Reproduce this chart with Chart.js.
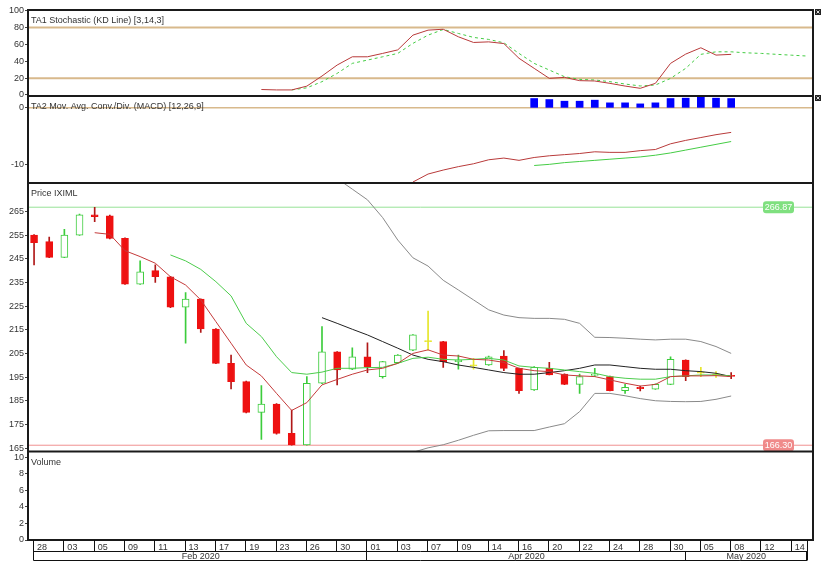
<!DOCTYPE html>
<html>
<head>
<meta charset="utf-8">
<script src="https://cdn.jsdelivr.net/npm/chart.js@4.4.1/dist/chart.umd.min.js"></script>
<style>
  html, body { margin: 0; padding: 0; background: #fff; }
</style>
</head>
<body>
<canvas id="myChart" width="830" height="561"></canvas>
<script>
// x axis labels (one label every two trading days)
var dateLabels = ["28", "03", "05", "09", "11", "13", "17", "19", "23", "26", "30", "01", "03",
                  "07", "09", "14", "16", "20", "22", "24", "28", "30", "05", "08", "12", "14"];
var dateSlots = [0, 2, 4, 6, 8, 10, 12, 14, 16, 18, 20, 22, 24, 26, 28, 30, 32, 34, 36, 38, 40, 42, 44, 46, 48, 50];
var monthLabels = ["Feb 2020", "Apr 2020", "May 2020"];
var monthSlots = [0, 22, 43, 51];

// candles
var openP  = [255.1, 252.3, 245.7, 255.1, 263.7, 263.2, 253.7, 234.3, 240.1, 237.5, 224.6, 228.0, 215.4, 200.9, 193.2, 180.2,
              183.7, 171.3, 166.4, 192.5, 205.8, 198.4, 203.7, 195.3, 201.2, 206.5, 210.1, 210.1, 201.6, 199.8, 200.2, 204.0,
              198.8, 189.7, 198.8, 196.4, 192.0, 195.8, 195.3, 189.4, 190.8, 190.0, 192.0, 202.3, 196.7, 196.0, 195.8];
var highP  = [255.3, 254.2, 257.5, 264.0, 266.87, 263.5, 253.9, 244.2, 242.5, 237.7, 230.8, 228.2, 215.6, 204.4, 193.4, 191.5,
              183.9, 181.2, 195.3, 216.4, 205.9, 207.5, 209.6, 201.7, 204.6, 213.0, 223.0, 210.2, 204.4, 203.0, 204.0, 206.3,
              198.9, 199.5, 201.3, 196.5, 196.4, 198.8, 195.5, 192.0, 191.3, 192.2, 203.7, 202.4, 199.2, 197.4, 197.0];
var lowP   = [242.5, 245.5, 245.6, 255.0, 260.8, 253.5, 234.2, 234.2, 235.1, 224.4, 209.4, 214.0, 200.8, 190.1, 180.0, 168.8,
              171.0, 166.3, 166.3, 192.3, 191.8, 198.2, 197.0, 194.6, 201.0, 206.3, 206.5, 199.2, 198.4, 198.4, 200.0, 197.8,
              188.2, 189.5, 196.0, 191.9, 188.2, 195.3, 189.2, 188.2, 189.2, 189.9, 191.9, 193.6, 195.3, 195.0, 194.4];
var closeP = [251.9, 245.7, 255.1, 263.6, 262.9, 253.7, 234.3, 239.6, 237.5, 224.6, 228.0, 215.4, 200.9, 193.2, 180.2, 183.7,
              171.3, 166.4, 192.5, 205.8, 198.1, 203.7, 199.5, 201.6, 204.4, 212.9, 210.1, 201.6, 202.3, 199.8, 203.7, 198.8,
              189.4, 199.2, 196.0, 192.0, 195.3, 196.2, 189.4, 190.8, 190.2, 192.0, 202.6, 195.3, 196.7, 196.0, 195.4];
var volume = [0, 0, 0, 0, 0];

// price overlays
var maFast = [null, null, null, null, 256.1, 255.4, 248.5, 246.0, 243.2, 237.5, 234.0, 227.7, 218.5, 209.4, 200.2, 195.6,
              188.2, 181.0, 184.3, 191.8, 194.1, 196.3, 198.1, 198.8, 200.9, 205.1, 206.6, 204.4, 204.0, 202.6, 202.3, 201.3,
              198.8, 197.8, 197.4, 196.0, 195.6, 195.3, 193.9, 192.5, 191.3, 192.0, 195.3, 195.6, 195.6, 195.7, 195.3];
var maSlow = [null, null, null, null, null, null, null, null, null, 246.7, 244.2, 240.6, 235.4, 229.4, 217.8, 212.2,
              203.7, 197.0, 196.3, 197.2, 198.8, 198.8, 199.1, 199.2, 200.9, 203.0, 203.5, 202.6, 202.3, 202.6, 203.0, 202.3,
              199.8, 199.2, 198.8, 198.1, 197.4, 196.7, 195.3, 194.6, 194.2, 194.2, 195.3, 195.6, 196.0, 196.0, 195.6];
var bbMid = [null, null, null, null, null, null, null, null, null, null, null, null, null, null, null, null,
             null, null, null, 220.2, 217.8, 215.3, 212.9, 210.1, 207.3, 204.4, 202.6, 201.6, 200.2, 199.2, 198.1, 197.0,
             196.3, 196.3, 197.0, 197.8, 198.8, 200.2, 200.2, 199.5, 198.8, 198.4, 198.4, 197.8, 197.4, 196.7, 195.3];
var bbUp = [null, null, null, null, null, null, null, null, null, null, null, null, null, null, null, null,
            null, null, null, 290.0, 279.0, 274.5, 270.0, 262.5, 253.0, 245.5, 242.0, 236.0, 231.9, 227.7, 223.5, 221.3,
            220.2, 219.9, 219.9, 219.5, 217.8, 211.9, 211.8, 211.5, 211.1, 210.8, 211.1, 211.1, 210.1, 208.0, 205.1];
var bbLow = [null, null, null, null, null, null, null, null, null, null, null, null, null, null, null, null,
             null, null, null, 150.0, 156.0, 156.0, 156.0, 158.0, 161.0, 163.3, 165.2, 166.5, 168.4, 170.5, 172.4, 172.5,
             172.5, 172.5, 174.0, 175.4, 180.5, 188.2, 188.2, 187.2, 186.0, 185.1, 184.8, 184.7, 184.8, 185.7, 187.1];
var priceHigh = 266.87;
var priceLow = 166.30;

// stochastic
var stochK = [null, null, null, null, null, null, null, null, null, null, null, null, null, null, null, 6.5,
              6.0, 6.0, 10.5, 22.5, 35.5, 45.3, 45.3, 49.3, 53.5, 71.0, 76.9, 78.0, 69.0, 62.3, 63.0, 61.0,
              43.5, 31.6, 19.7, 20.9, 17.0, 16.6, 13.8, 10.6, 7.9, 13.8, 37.5, 48.5, 56.0, 47.3, 48.2];
var stochD = [null, null, null, null, null, null, null, null, null, null, null, null, null, null, null, null,
              null, 6.0, 8.5, 15.8, 25.6, 37.5, 41.4, 45.3, 49.3, 61.2, 71.0, 77.7, 73.0, 68.3, 65.9, 61.9,
              49.3, 37.5, 29.6, 21.7, 18.5, 17.8, 15.8, 13.0, 10.7, 11.8, 19.7, 31.6, 48.2, 51.2, 51.2,
              50.0, 49.3, 48.2, 47.2, 46.2];
var stochLevels = [20, 80];

// MACD
var macdLine = [null, null, null, null, null, null, null, null, null, null, null, null, null, null, null, null,
                null, null, null, null, null, null, null, null, null, -13.0, -11.6, -10.9, -10.3, -9.8, -9.1, -8.8,
                -9.2, -8.7, -8.4, -8.2, -8.0, -7.7, -7.8, -7.8, -7.5, -7.3, -6.3, -5.7, -5.2, -4.7, -4.3];
var macdSignal = [null, null, null, null, null, null, null, null, null, null, null, null, null, null, null, null,
                  null, null, null, null, null, null, null, null, null, null, null, null, null, null, null, null,
                  null, -10.1, -9.9, -9.6, -9.4, -9.2, -9.0, -8.8, -8.6, -8.3, -7.9, -7.4, -6.9, -6.4, -5.9];
var macdHist = [null, null, null, null, null, null, null, null, null, null, null, null, null, null, null, null,
                null, null, null, null, null, null, null, null, null, null, null, null, null, null, null, null,
                null, 1.64, 1.46, 1.17, 1.17, 1.35, 0.88, 0.88, 0.70, 0.88, 1.64, 1.70, 1.87, 1.70, 1.64];
var macdLevels = [0];

// axis ticks
var stochTicks = [0, 20, 40, 60, 80, 100];
var macdTicks = [-10, 0];
var priceTicks = [165, 175, 185, 195, 205, 215, 225, 235, 245, 255, 265];
var volTicks = [0, 2, 4, 6, 8, 10];

var titles = {
  yStoch: "TA1 Stochastic (KD Line) [3,14,3]",
  yMacd: "TA2 Mov. Avg. Conv./Div. (MACD) [12,26,9]",
  yPrice: "Price IXIML",
  yVol: "Volume"
};

var FONT = "Liberation Sans";
Chart.defaults.font.family = FONT;
Chart.defaults.font.size = 9;

function pts(arr) {
  return arr.map(function (v, i) { return {x: i, y: v}; }).filter(function (p) { return p.y !== null; });
}
function candleColor(i, up, down, flat) {
  if (closeP[i] > openP[i]) return up;
  if (closeP[i] < openP[i]) return down;
  return flat;
}
var idx = closeP.map(function (_, i) { return i; });
var bodyFill = idx.map(function (i) { return candleColor(i, "#ffffff", "#ee1111", "#e6e62a"); });
var bodyLine = idx.map(function (i) { return candleColor(i, "#3ccc3c", "#ee1111", "#e6e62a"); });
var wickLine = idx.map(function (i) { return candleColor(i, "#3ccc3c", "#b01818", "#e6e62a"); });

function lineSet(label, axis, arr, color, extra) {
  var ds = {
    type: "line", label: label, yAxisID: axis, data: pts(arr),
    borderColor: color, borderWidth: 1, pointRadius: 0, tension: 0,
    spanGaps: false, clip: 0, order: 0
  };
  for (var k in extra) ds[k] = extra[k];
  return ds;
}

function yAxis(weight, min, max, ticks) {
  return {
    type: "linear", position: "left", stack: "panels", stackWeight: weight,
    min: min, max: max, bounds: "data",
    grid: { drawOnChartArea: false, drawTicks: true, tickLength: 3, color: "#444" },
    border: { display: true, color: "#222", width: 1 },
    ticks: { autoSkip: false, padding: 1, color: "#333", font: { family: FONT, size: 9 },
             callback: function (v) { return String(v); } },
    afterBuildTicks: function (s) { s.ticks = ticks.map(function (v) { return {value: v}; }); },
    afterFit: function (s) { s.width = 28; }
  };
}

function hline(ctx, a, y) {
  ctx.beginPath(); ctx.moveTo(a.left, y); ctx.lineTo(a.right, y); ctx.stroke();
}

function priceTag(ctx, a, y, text, fill) {
  var w = 31, h = 12, x = a.right - 19 - w;
  ctx.fillStyle = fill;
  ctx.beginPath();
  ctx.roundRect(x, y - h / 2, w, h, 3);
  ctx.fill();
  ctx.fillStyle = "#ffffff";
  ctx.font = "9px '" + FONT + "'";
  ctx.textAlign = "center";
  ctx.textBaseline = "middle";
  ctx.fillText(text, x + w / 2, y + 0.5);
}

var panelPlugin = {
  id: "panels",
  beforeDatasetsDraw: function (chart) {
    var ctx = chart.ctx, a = chart.chartArea, s = chart.scales;
    ctx.save();
    ctx.strokeStyle = "#d8b98c";
    ctx.lineWidth = 2;
    stochLevels.forEach(function (v) { hline(ctx, a, s.yStoch.getPixelForValue(v)); });
    ctx.lineWidth = 1.5;
    macdLevels.forEach(function (v) { hline(ctx, a, s.yMacd.getPixelForValue(v)); });
    ctx.lineWidth = 1;
    ctx.strokeStyle = "#96e296";
    hline(ctx, a, s.yPrice.getPixelForValue(priceHigh));
    ctx.strokeStyle = "#f09090";
    hline(ctx, a, s.yPrice.getPixelForValue(priceLow));
    ctx.restore();
  },
  afterDatasetsDraw: function (chart) {
    var ctx = chart.ctx, a = chart.chartArea, s = chart.scales;
    ctx.save();
    priceTag(ctx, a, s.yPrice.getPixelForValue(priceHigh), priceHigh.toFixed(2), "#7fe07f");
    priceTag(ctx, a, s.yPrice.getPixelForValue(priceLow), priceLow.toFixed(2), "#f08a8a");

    // panel frames
    ctx.strokeStyle = "#1a1a1a";
    ctx.lineWidth = 2;
    ctx.strokeRect(a.left, a.top, a.right - a.left, a.bottom - a.top);
    [s.yMacd.top, s.yPrice.top, s.yVol.top].forEach(function (y) { hline(ctx, a, y); });

    // panel titles
    ctx.fillStyle = "#333";
    ctx.font = "9px '" + FONT + "'";
    ctx.textAlign = "left";
    ctx.textBaseline = "alphabetic";
    Object.keys(titles).forEach(function (id) {
      ctx.fillText(titles[id], a.left + 3, s[id].top + 13);
    });

    // small panel buttons at the right
    [s.yStoch.top, s.yMacd.top].forEach(function (y) {
      ctx.fillStyle = "#222";
      ctx.fillRect(a.right + 2, y - 1, 6, 6);
      ctx.strokeStyle = "#ddd";
      ctx.lineWidth = 1;
      ctx.beginPath();
      ctx.moveTo(a.right + 3.5, y + 0.5); ctx.lineTo(a.right + 6.5, y + 3.5);
      ctx.moveTo(a.right + 6.5, y + 0.5); ctx.lineTo(a.right + 3.5, y + 3.5);
      ctx.stroke();
    });
    ctx.restore();
  },
  afterDraw: function (chart) {
    var ctx = chart.ctx, a = chart.chartArea, sx = chart.scales.x;
    var top = a.bottom, mid = a.bottom + 11, bot = a.bottom + 20;
    var x0 = Math.round(sx.getPixelForValue(dateSlots[0])) - 0.5;
    var x1 = Math.round(sx.getPixelForValue(monthSlots[monthSlots.length - 1])) + 0.5;
    ctx.save();
    ctx.strokeStyle = "#111";
    ctx.lineWidth = 1;
    ctx.beginPath();
    ctx.moveTo(x0, mid + 0.5); ctx.lineTo(x1, mid + 0.5);
    ctx.moveTo(x0, bot + 0.5); ctx.lineTo(x1, bot + 0.5);
    dateSlots.forEach(function (v) {
      var x = Math.round(sx.getPixelForValue(v)) - 0.5;
      ctx.moveTo(x, top); ctx.lineTo(x, mid);
    });
    ctx.moveTo(x1, top); ctx.lineTo(x1, bot);
    monthSlots.forEach(function (v) {
      var x = Math.round(sx.getPixelForValue(v)) - 0.5;
      ctx.moveTo(x, mid); ctx.lineTo(x, bot + 0.5);
    });
    ctx.stroke();

    ctx.fillStyle = "#333";
    ctx.font = "9px '" + FONT + "'";
    ctx.textAlign = "center";
    ctx.textBaseline = "alphabetic";
    monthLabels.forEach(function (m, j) {
      var xa = sx.getPixelForValue(monthSlots[j]);
      var xb = sx.getPixelForValue(monthSlots[j + 1]);
      ctx.fillText(m, (xa + xb) / 2, bot - 1.5);
    });
    ctx.restore();
  }
};

new Chart(document.getElementById("myChart"), {
  type: "bar",
  data: {
    datasets: [
      lineSet("MA fast", "yPrice", maFast, "#c43a3a"),
      lineSet("MA slow", "yPrice", maSlow, "#4ccc4c"),
      lineSet("BB mid", "yPrice", bbMid, "#222222"),
      lineSet("BB upper", "yPrice", bbUp, "#8a8a8a"),
      lineSet("BB lower", "yPrice", bbLow, "#8a8a8a"),
      lineSet("%K", "yStoch", stochK, "#b83a3a"),
      lineSet("%D", "yStoch", stochD, "#44cc44", { borderDash: [3, 3] }),
      lineSet("MACD", "yMacd", macdLine, "#b83a3a"),
      lineSet("Signal", "yMacd", macdSignal, "#44cc44"),
      lineSet("Volume", "yVol", volume, "#44cc44", { borderWidth: 2, clip: 2 }),
      {
        type: "bar", label: "Hist", yAxisID: "yMacd", data: pts(macdHist),
        backgroundColor: "#0000ff", borderWidth: 0, barThickness: 7, grouped: false, order: 1
      },
      {
        type: "bar", label: "Body", yAxisID: "yPrice",
        data: idx.map(function (i) { return {x: i, y: [openP[i], closeP[i]]}; }),
        backgroundColor: bodyFill, borderColor: bodyLine, borderWidth: 1, borderSkipped: false,
        barThickness: 7, minBarLength: 1, grouped: false, order: 1
      },
      {
        type: "bar", label: "Wick", yAxisID: "yPrice",
        data: idx.map(function (i) { return {x: i, y: [lowP[i], highP[i]]}; }),
        backgroundColor: wickLine, borderWidth: 0, barThickness: 1, grouped: false, order: 2
      }
    ]
  },
  options: {
    responsive: false,
    animation: false,
    events: [],
    layout: { padding: { top: 10, right: 17, left: 0, bottom: 0 } },
    plugins: { legend: { display: false }, tooltip: { enabled: false } },
    scales: {
      x: {
        type: "linear", min: -0.4, max: 51.4, offset: false, bounds: "data",
        grid: { display: false, drawTicks: false },
        border: { display: false },
        ticks: {
          autoSkip: false, maxRotation: 0, minRotation: 0, align: "start", labelOffset: 3, padding: 2,
          color: "#333", font: { family: FONT, size: 9 },
          callback: function (v, i) { return dateLabels[i]; }
        },
        afterBuildTicks: function (s) { s.ticks = dateSlots.map(function (v) { return {value: v}; }); },
        afterFit: function (s) { s.height = 21; }
      },
      yVol: yAxis(88.5, 0, 10.7, volTicks),
      yPrice: yAxis(268.5, 163.65, 277.1, priceTicks),
      yMacd: yAxis(87, -13.17, 2.08, macdTicks),
      yStoch: yAxis(86, -1.2, 100.8, stochTicks)
    }
  },
  plugins: [panelPlugin]
});
</script>
</body>
</html>
